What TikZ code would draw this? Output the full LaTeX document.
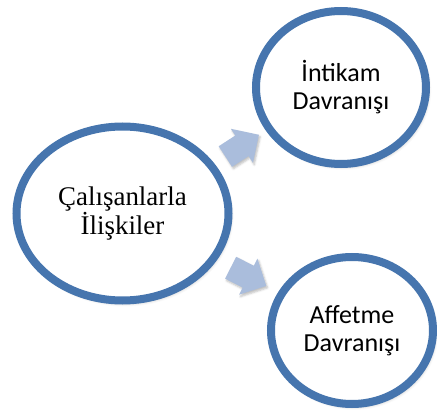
\documentclass[tikz,border=0pt]{standalone}
\usepackage{fontspec}
\setmainfont{Liberation Serif}
\newfontfamily\calibrifont{Carlito}
\usetikzlibrary{shapes.geometric,shapes.arrows,shadows.blur}

\definecolor{ringblue}{RGB}{70,117,174}
\definecolor{arrowblue}{RGB}{170,189,220}

\tikzset{
  ring/.style={ellipse, draw=ringblue, line width=6pt, fill=white, inner sep=0pt,
    align=center, blur shadow={shadow xshift=1.5pt, shadow yshift=-2pt,
    shadow blur radius=2.5pt, shadow opacity=30}},
  blockarrow/.style={single arrow, fill=arrowblue, draw=none, inner sep=9pt,
    single arrow head extend=6pt, minimum height=30pt, blur shadow={shadow xshift=1pt,
    shadow yshift=-1.5pt, shadow blur radius=1.5pt, shadow opacity=25}},
}

\begin{document}
\begin{tikzpicture}[x=0.75pt, y=-0.75pt]
  \useasboundingbox (0,0) rectangle (437,414);
  \node[ring, minimum width=159pt, minimum height=130.5pt,
    font=\fontsize{20.2}{21.5}\selectfont] (rel) at (122.5,213.5) {Çalışanlarla\\İlişkiler};
  \node[ring, minimum width=127.5pt, minimum height=114.75pt,
    font=\calibrifont\fontsize{19.5}{21}\selectfont] (revenge) at (341,87.5) {İntikam\\Davranışı};
  \node[ring, minimum width=121.5pt, minimum height=110.25pt,
    font=\calibrifont\fontsize{19.5}{21}\selectfont] (forgive) at (352,330.5) {Affetme\\Davranışı};
  \node[blockarrow, rotate=33] (a1) at (237,149) {};
  \node[blockarrow, rotate=-27] (a2) at (243,274) {};
\end{tikzpicture}
\end{document}
